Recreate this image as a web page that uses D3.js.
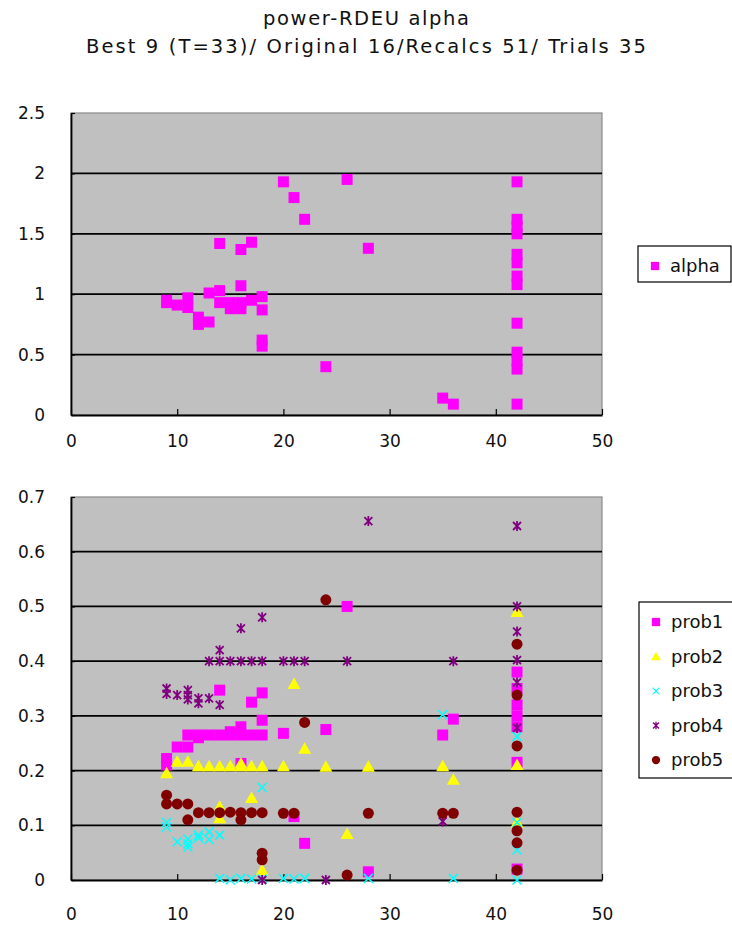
<!DOCTYPE html>
<html>
<head>
<meta charset="utf-8">
<script src="https://cdn.jsdelivr.net/npm/d3@7"></script>
<style>
  body { margin: 0; background: #fff; }
  text { font-family: "DejaVu Sans", sans-serif; fill: #111; }
</style>
</head>
<body>
<svg id="chart" width="732" height="933"></svg>
<script>
// values, [trial, value]
const alpha = [[9,0.95],[9,0.93],[10,0.91],[11,0.97],[11,0.89],[12,0.81],[12,0.75],[13,1.01],[13,0.77],
  [14,1.42],[14,1.03],[14,0.93],[15,0.93],[15,0.88],[16,1.37],[16,1.07],[16,0.93],[16,0.88],[17,1.43],[17,0.95],
  [18,0.98],[18,0.87],[18,0.62],[18,0.57],[20,1.93],[21,1.80],[22,1.62],[24,0.40],[26,1.95],[28,1.38],
  [35,0.14],[36,0.09],[42,1.93],[42,1.62],[42,1.56],[42,1.50],[42,1.33],[42,1.26],[42,1.15],[42,1.08],
  [42,0.76],[42,0.52],[42,0.45],[42,0.38],[42,0.09]];

const prob1 = [[9,0.222],[9,0.21],[10,0.243],[11,0.243],[11,0.265],[12,0.265],[12,0.26],[13,0.265],[14,0.265],
  [14,0.347],[15,0.265],[15,0.271],[16,0.28],[16,0.265],[16,0.213],[17,0.325],[17,0.265],[18,0.342],[18,0.292],
  [18,0.265],[20,0.268],[21,0.116],[22,0.067],[24,0.275],[26,0.50],[28,0.015],[35,0.265],[36,0.294],
  [42,0.38],[42,0.35],[42,0.32],[42,0.30],[42,0.28],[42,0.215],[42,0.02]];

const prob2 = [[9,0.195],[10,0.216],[11,0.216],[12,0.208],[13,0.208],[14,0.208],[14,0.134],[14,0.113],[15,0.208],
  [16,0.208],[16,0.213],[17,0.208],[17,0.15],[18,0.208],[18,0.018],[20,0.208],[21,0.358],[22,0.24],[24,0.207],
  [26,0.084],[28,0.207],[35,0.208],[36,0.183],[42,0.49],[42,0.21],[42,0.105]];

const prob3 = [[9,0.105],[9,0.097],[10,0.07],[11,0.075],[11,0.066],[11,0.06],[12,0.082],[12,0.077],[13,0.088],
  [13,0.074],[14,0.082],[14,0.003],[15,0.0],[16,0.003],[17,0.002],[18,0.169],[18,0.002],[20,0.003],[21,0.002],
  [22,0.003],[28,0.003],[35,0.302],[36,0.003],[42,0.262],[42,0.105],[42,0.055],[42,0.0]];

const prob4 = [[9,0.35],[9,0.34],[10,0.338],[11,0.347],[11,0.338],[11,0.33],[12,0.332],[12,0.323],[13,0.332],
  [13,0.40],[14,0.42],[14,0.40],[14,0.32],[15,0.40],[16,0.46],[16,0.40],[17,0.40],[18,0.48],[18,0.40],[18,0.0],
  [20,0.40],[21,0.40],[22,0.40],[24,0.0],[26,0.40],[28,0.656],[35,0.107],[36,0.40],
  [42,0.647],[42,0.50],[42,0.454],[42,0.402],[42,0.361],[42,0.278]];

const prob5 = [[9,0.155],[9,0.139],[10,0.139],[11,0.139],[11,0.11],[12,0.123],[13,0.123],[14,0.123],[15,0.124],
  [16,0.123],[16,0.11],[17,0.123],[18,0.123],[18,0.049],[18,0.037],[20,0.122],[21,0.122],[22,0.288],[24,0.512],
  [26,0.009],[28,0.122],[35,0.122],[36,0.122],[42,0.431],[42,0.338],[42,0.245],[42,0.124],[42,0.09],[42,0.068],[42,0.018]];

const xTicks = [0, 10, 20, 30, 40, 50];
const alphaTicks = [0, 0.5, 1, 1.5, 2, 2.5];
const probTicks = [0, 0.1, 0.2, 0.3, 0.4, 0.5, 0.6, 0.7];
const titleLines = ["power-RDEU alpha", "Best 9 (T=33)/ Original 16/Recalcs 51/ Trials 35"];

const svg = d3.select("#chart");

// marker drawers
function marker(g, type, color) {
  if (type == "square") {
    g.append("rect").attr("x", -5.5).attr("y", -5.5).attr("width", 11).attr("height", 11).attr("fill", color);
  } else if (type == "triangle") {
    g.append("path").attr("d", "M0,-6.5L6.5,5L-6.5,5Z").attr("fill", color);
  } else if (type == "cross") {
    g.append("path").attr("d", "M-4.5,-4.5L4.5,4.5M-4.5,4.5L4.5,-4.5").attr("stroke", color).attr("stroke-width", 1.5).attr("fill", "none");
  } else if (type == "star") {
    g.append("path").attr("d", "M-4,-4L4,4M-4,4L4,-4M0,-5L0,5")
      .attr("stroke", color).attr("stroke-width", 1.8).attr("fill", "none");
  } else if (type == "circle") {
    g.append("circle").attr("r", 5.5).attr("fill", color);
  }
}

function panel(top, bottom, yMax, yTicks, series, fmt, xPad) {
  var x = d3.scaleLinear().domain([0, 50]).range([71, 602]);
  var y = d3.scaleLinear().domain([0, yMax]).range([bottom, top]);

  svg.append("rect")
    .attr("x", 71).attr("y", top).attr("width", 531).attr("height", bottom - top)
    .attr("fill", "#c0c0c0").attr("stroke", "#8a8a8a").attr("stroke-width", 1.2);

  // gridlines
  svg.append("g").selectAll("line")
    .data(yTicks.filter(function(d) { return d > 0 && d < yMax; }))
    .enter().append("line")
      .attr("x1", 71).attr("x2", 602)
      .attr("y1", function(d) { return y(d); }).attr("y2", function(d) { return y(d); })
      .attr("stroke", "#000").attr("stroke-width", 1.8);

  var xAxis = svg.append("g").attr("transform", "translate(0," + bottom + ")")
    .call(d3.axisBottom(x).tickValues(xTicks).tickSizeInner(-6).tickSizeOuter(0).tickPadding(xPad));
  var yAxis = svg.append("g").attr("transform", "translate(71,0)")
    .call(d3.axisLeft(y).tickValues(yTicks).tickFormat(fmt).tickSizeInner(-4).tickSizeOuter(0).tickPadding(26));
  [xAxis, yAxis].forEach(function(a) {
    a.select(".domain").attr("stroke", "#000").attr("stroke-width", 1.8);
    a.selectAll(".tick line").attr("stroke", "#000").attr("stroke-width", 1.2);
    a.selectAll("text").attr("font-size", 17).attr("font-family", "DejaVu Sans, sans-serif").attr("fill", "#111");
  });

  series.forEach(function(s) {
    s.data.forEach(function(d) {
      var g = svg.append("g").attr("transform", "translate(" + x(d[0]) + "," + y(d[1]) + ")");
      marker(g, s.type, s.color);
    });
  });
}

// titles
var titleWidths = [206, 560];
svg.append("g").selectAll("text")
  .data(titleLines)
  .enter().append("text")
    .attr("x", 366).attr("y", function(d, i) { return 25 + i * 28; })
    .attr("text-anchor", "middle").attr("font-size", 19.5)
    .attr("textLength", function(d, i) { return titleWidths[i]; })
    .attr("lengthAdjust", "spacing")
    .text(function(d) { return d; });

var topSeries = [{name: "alpha", data: alpha, type: "square", color: "#ff00ff"}];
var botSeries = [
  {name: "prob1", data: prob1, type: "square", color: "#ff00ff"},
  {name: "prob2", data: prob2, type: "triangle", color: "#ffff00"},
  {name: "prob3", data: prob3, type: "cross", color: "#00ffff"},
  {name: "prob4", data: prob4, type: "star", color: "#800080"},
  {name: "prob5", data: prob5, type: "circle", color: "#800000"}
];

panel(113, 415, 2.5, alphaTicks, topSeries, function(d) { return d; }, 20);
panel(497, 880, 0.7, probTicks, botSeries, function(d) { return d === 0 ? "0" : d3.format(".1f")(d); }, 28);

// legends
function legend(x0, y0, w, h, series, gap) {
  svg.append("rect").attr("x", x0).attr("y", y0).attr("width", w).attr("height", h)
    .attr("fill", "#fff").attr("stroke", "#000").attr("stroke-width", 1.2);
  series.forEach(function(s, i) {
    var cy = y0 + 20 + i * gap;
    var g = svg.append("g").attr("transform", "translate(" + (x0 + 17) + "," + cy + ") scale(0.75)");
    marker(g, s.type, s.color);
    svg.append("text").attr("x", x0 + 32).attr("y", cy + 6).attr("font-size", 18).text(s.name);
  });
}
legend(638, 246, 93, 36, topSeries, 0);
legend(639, 602, 100, 176, botSeries, 34.5);
</script>
</body>
</html>
